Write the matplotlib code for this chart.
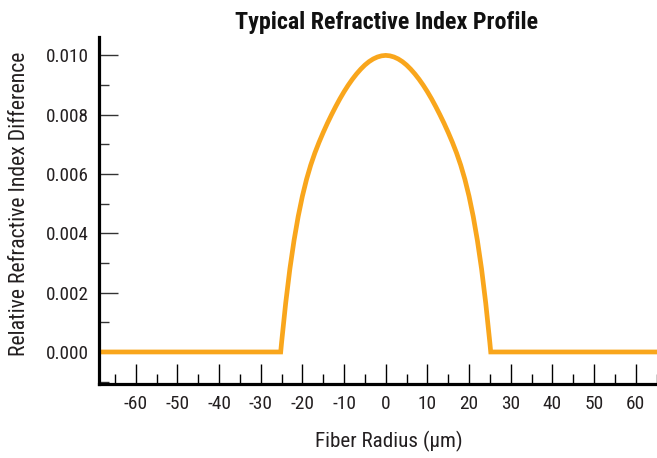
import matplotlib
matplotlib.use("Agg")
import matplotlib.pyplot as plt
from matplotlib import font_manager
from matplotlib.ticker import MultipleLocator

# ---- font choice: prefer a condensed sans ----
entries = font_manager.fontManager.ttflist
names = {f.name for f in entries}
FONT, STRETCH = 'Roboto', 'normal'
if 'Liberation Sans Narrow' in names:
    FONT = 'Liberation Sans Narrow'
elif 'Roboto Condensed' in names:
    FONT = 'Roboto Condensed'
elif any(f.name == 'DejaVu Sans' and str(f.stretch) in ('condensed', 'semi-condensed') for f in entries):
    FONT, STRETCH = 'DejaVu Sans', 'condensed'
elif 'Roboto' not in names:
    FONT = 'Liberation Sans'
plt.rcParams['font.family'] = [FONT, 'DejaVu Sans']
plt.rcParams['font.stretch'] = STRETCH

# ---- data ----
# Fiber radius (um) and relative refractive index difference
radius = [-68, -25.2, -25, -24, -23, -22, -21, -20, -19, -18, -17, -16, -15, -14, -13,
          -12, -11, -10, -9, -8, -7, -6, -5, -4, -3, -2, -1, 0,
          1, 2, 3, 4, 5, 6, 7, 8, 9, 10, 11, 12, 13, 14, 15, 16, 17, 18, 19, 20,
          21, 22, 23, 24, 25, 25.2, 66]
delta = [0.0, 0.0, 0.00030, 0.00165, 0.00280, 0.00376, 0.00457, 0.00525, 0.00582,
         0.00630, 0.00671, 0.00707, 0.00740, 0.00771, 0.00800, 0.008275, 0.008535,
         0.008775, 0.008995, 0.009195, 0.009375, 0.009535, 0.009675, 0.00979,
         0.00988, 0.009945, 0.009985, 0.01000,
         0.009985, 0.009945, 0.00988, 0.00979, 0.009675, 0.009535, 0.009375,
         0.009195, 0.008995, 0.008775, 0.008535, 0.008275, 0.00800, 0.00771,
         0.00740, 0.00707, 0.00671, 0.00630, 0.00582, 0.00525, 0.00457, 0.00376,
         0.00280, 0.00165, 0.00030, 0.0, 0.0]

x_ticks = [-60, -50, -40, -30, -20, -10, 0, 10, 20, 30, 40, 50, 60]
y_ticks = [0.000, 0.002, 0.004, 0.006, 0.008, 0.010]

W, H = 657, 458
fig = plt.figure(figsize=(W / 100, H / 100), dpi=100)
ax = fig.add_axes([99 / W, 1 - 384 / H, 1 - 99 / W, (384 - 37) / H])

ax.plot(radius, delta, color='#F9A61C', lw=3.4, solid_joinstyle='miter', zorder=2)

ax.set_xlim(-68.8, 65.1)
ax.set_ylim(-0.00108, 0.01062)

ax.set_xticks(x_ticks)
ax.set_xticklabels([str(v) for v in x_ticks])
ax.xaxis.set_minor_locator(MultipleLocator(5))
ax.set_yticks(y_ticks)
ax.set_yticklabels([f"{v:.3f}" for v in y_ticks])
ax.yaxis.set_minor_locator(MultipleLocator(0.001))

for s in ['top', 'right']:
    ax.spines[s].set_visible(False)
for s in ['left', 'bottom']:
    ax.spines[s].set_linewidth(2.3)
    ax.spines[s].set_color('black')

tc = '#231f20'
ax.tick_params(axis='x', which='major', direction='in', length=14.4, width=1.0,
               color='black', labelsize=14, labelcolor=tc, pad=8)
ax.tick_params(axis='x', which='minor', direction='in', length=7.2, width=1.0, color='black')
ax.tick_params(axis='y', which='major', direction='in', length=13.7, width=1.0,
               color='#333333', labelsize=14, labelcolor=tc, pad=7.5)
ax.tick_params(axis='y', which='minor', direction='in', length=7.2, width=1.0, color='#333333')

title = fig.text(386.5 / W, 1 - 22 / H, 'Typical Refractive Index Profile', ha='center',
                 va='center', fontsize=15, fontweight='bold', color='#111111')
xlab = fig.text(389 / W, 1 - 441 / H, 'Fiber Radius (\u03bcm)', ha='center', va='center',
                fontsize=14, color=tc)
ylab = fig.text(20 / W, 1 - 204 / H, 'Relative Refractive Index Difference', ha='center',
                va='center', rotation=90, fontsize=14, color=tc)

# fit text sizes to the widths measured on the reference
targets = [(title, 303, 'w'), (xlab, 148, 'w'), (ylab, 304, 'h')]
for _ in range(2):
    fig.canvas.draw()
    r = fig.canvas.get_renderer()
    for t, tw, dim in targets:
        bb = t.get_window_extent(r)
        cur = bb.width if dim == 'w' else bb.height
        t.set_fontsize(t.get_fontsize() * tw / cur)
    ylbls = ax.get_yticklabels()
    xlbls = ax.get_xticklabels()
    yw = ylbls[-1].get_window_extent(r).width
    xw = xlbls[0].get_window_extent(r).width
    ax.tick_params(axis='y', labelsize=ylbls[-1].get_fontsize() * 43 / yw)
    ax.tick_params(axis='x', labelsize=xlbls[0].get_fontsize() * 24.3 / xw)

fig.savefig('out.png', dpi=100)
